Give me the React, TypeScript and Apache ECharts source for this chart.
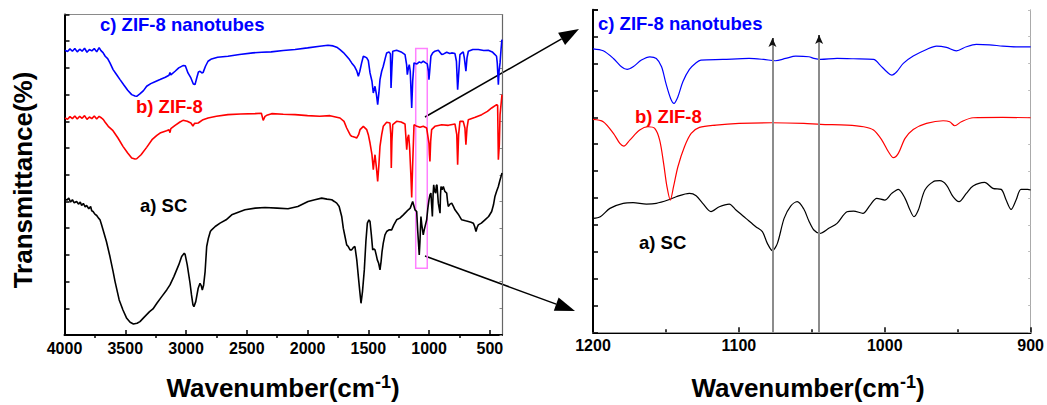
import React, { useEffect, useRef } from "react";
import * as echarts from "echarts";

type P = [number, number];

// ---------- left panel (full spectrum), x = wavenumber, y = relative transmittance (offset traces)
const leftBlackSC: P[] = [
  [3996, 408], [3980, 404], [3965, 410], [3950, 398], [3935, 405], [3920, 396], [3900, 400], [3885, 392],
  [3870, 398], [3859, 388], [3845, 394], [3830, 384], [3818, 388], [3800, 378], [3785, 385], [3776, 372],
  [3765, 370], [3750, 362], [3735, 358], [3720, 350], [3708, 345], [3695, 330], [3683, 315], [3655, 280],
  [3626, 235], [3600, 190], [3584, 160], [3550, 105], [3519, 75], [3488, 50], [3460, 38], [3433, 33],
  [3403, 35], [3379, 40], [3340, 55], [3300, 70], [3272, 78], [3240, 95], [3200, 115], [3159, 135],
  [3132, 150], [3100, 175], [3060, 210], [3036, 235], [3015, 245], [3008, 242], [2990, 210], [2967, 155],
  [2955, 120], [2943, 90], [2935, 85], [2920, 100], [2900, 140], [2885, 155], [2875, 148], [2866, 135],
  [2855, 150], [2843, 190], [2830, 265], [2816, 290], [2800, 310], [2789, 315], [2760, 325], [2720, 335],
  [2670, 345], [2624, 360], [2570, 368], [2515, 375], [2430, 380], [2350, 382], [2250, 380], [2161, 378],
  [2080, 385], [1996, 400], [1940, 405], [1884, 410], [1840, 407], [1801, 405], [1780, 400], [1760, 395],
  [1740, 385], [1719, 355], [1706, 320], [1692, 295], [1678, 270], [1665, 265], [1650, 255], [1637, 255],
  [1623, 262], [1610, 265], [1595, 225], [1582, 175], [1570, 130], [1560, 95], [1548, 130], [1533, 195],
  [1520, 280], [1508, 335], [1495, 345], [1486, 340], [1475, 300], [1464, 255], [1455, 258], [1445, 255],
  [1435, 240], [1426, 225], [1415, 215], [1404, 195], [1395, 220], [1387, 250], [1377, 275], [1363, 300],
  [1349, 310], [1330, 315], [1308, 315], [1290, 330], [1267, 345], [1240, 350], [1212, 360], [1190, 368],
  [1171, 375], [1155, 380], [1135, 400], [1116, 375], [1102, 370], [1094, 315], [1081, 240], [1075, 280],
  [1067, 355], [1060, 330], [1048, 300], [1040, 315], [1030, 330], [1020, 345], [1010, 380], [1001, 405],
  [993, 420], [985, 425], [979, 390], [973, 355], [967, 420], [962, 450], [954, 430], [946, 425],
  [940, 448], [935, 450], [929, 420], [924, 395], [917, 380], [910, 365], [906, 420], [902, 445],
  [893, 435], [883, 445], [870, 430], [855, 425], [848, 400], [842, 385], [828, 392], [814, 395],
  [800, 385], [787, 375], [760, 362], [732, 345], [700, 342], [677, 340], [655, 338], [636, 335],
  [625, 325], [614, 310], [605, 322], [595, 330], [570, 335], [540, 345], [510, 355], [485, 370],
  [470, 390], [458, 415], [445, 430], [430, 445], [418, 462], [408, 475], [400, 485],
];

const leftRedZIF8: P[] = [
  [3996, 650], [3975, 646], [3955, 654], [3935, 648], [3915, 656], [3895, 647], [3875, 655], [3855, 649],
  [3835, 657], [3815, 646], [3795, 653], [3775, 648], [3755, 656], [3735, 647], [3715, 655], [3695, 650],
  [3680, 645], [3667, 638], [3640, 625], [3601, 612], [3560, 590], [3519, 565], [3480, 545], [3447, 530],
  [3420, 527], [3406, 528], [3370, 540], [3324, 562], [3280, 585], [3240, 598], [3214, 605], [3160, 612],
  [3140, 615], [3132, 606], [3125, 618], [3090, 628], [3050, 638], [3025, 643], [2990, 640], [2960, 635],
  [2943, 626], [2930, 634], [2900, 635], [2860, 645], [2819, 650], [2750, 655], [2655, 660], [2550, 662],
  [2432, 663], [2380, 664], [2365, 643], [2350, 655], [2336, 658], [2295, 663], [2200, 661], [2103, 660],
  [2000, 657], [1900, 655], [1815, 657], [1733, 650], [1700, 640], [1678, 620], [1650, 600], [1637, 595],
  [1610, 592], [1596, 590], [1580, 600], [1568, 615], [1541, 625], [1513, 615], [1500, 600], [1486, 575],
  [1470, 540], [1459, 495], [1452, 520], [1445, 540], [1433, 500], [1423, 460], [1413, 510], [1404, 565],
  [1390, 600], [1377, 625], [1349, 637], [1322, 635], [1315, 600], [1311, 500], [1306, 580], [1299, 630],
  [1267, 640], [1230, 638], [1198, 632], [1184, 555], [1176, 590], [1168, 600], [1160, 560], [1150, 480],
  [1143, 412], [1136, 500], [1124, 630], [1100, 625], [1075, 622], [1048, 625], [1020, 620], [1001, 575],
  [997, 540], [993, 520], [987, 580], [979, 615], [952, 625], [896, 630], [842, 628], [787, 632],
  [772, 600], [765, 510], [757, 600], [746, 640], [719, 640], [705, 620], [697, 570], [688, 620],
  [677, 645], [620, 652], [567, 660], [520, 670], [485, 680], [444, 690], [436, 688], [430, 525],
  [422, 570], [416, 660], [408, 690], [400, 720],
];

const leftBlueNanotubes: P[] = [
  [3996, 853], [3975, 849], [3955, 857], [3935, 850], [3915, 858], [3895, 848], [3875, 856], [3855, 850],
  [3835, 859], [3815, 847], [3795, 855], [3775, 851], [3755, 858], [3735, 848], [3715, 861], [3700, 852],
  [3683, 846], [3665, 835], [3645, 828], [3626, 815], [3600, 795], [3575, 782], [3543, 765], [3510, 748],
  [3480, 733], [3447, 720], [3420, 716], [3406, 715], [3380, 722], [3350, 732], [3324, 745], [3290, 753],
  [3260, 758], [3214, 765], [3170, 772], [3140, 778], [3132, 786], [3125, 779], [3090, 790], [3060, 800],
  [3025, 807], [3005, 806], [2984, 785], [2960, 770], [2940, 752], [2926, 750], [2912, 770], [2898, 788],
  [2885, 790], [2870, 785], [2860, 786], [2840, 805], [2819, 820], [2790, 827], [2740, 832], [2655, 835],
  [2560, 840], [2450, 845], [2377, 847], [2300, 848], [2200, 852], [2103, 855], [2000, 860], [1900, 865],
  [1832, 868], [1790, 866], [1760, 862], [1733, 855], [1705, 846], [1678, 835], [1655, 825], [1637, 815],
  [1615, 805], [1596, 792], [1582, 775], [1570, 790], [1555, 815], [1541, 835], [1527, 833], [1513, 830],
  [1500, 822], [1486, 785], [1470, 760], [1459, 725], [1452, 735], [1445, 745], [1433, 720], [1423, 690],
  [1413, 725], [1404, 765], [1390, 790], [1377, 805], [1360, 830], [1349, 845], [1330, 848], [1318, 842],
  [1313, 740], [1306, 800], [1299, 850], [1267, 853], [1230, 848], [1198, 840], [1185, 810], [1179, 780],
  [1170, 800], [1163, 810], [1155, 790], [1143, 680], [1135, 760], [1124, 815], [1100, 812], [1080, 818],
  [1065, 815], [1048, 820], [1028, 815], [1015, 812], [1005, 790], [1001, 765], [995, 790], [985, 835],
  [970, 845], [952, 850], [924, 853], [896, 840], [880, 842], [855, 847], [830, 843], [814, 845],
  [787, 843], [775, 820], [765, 735], [755, 790], [746, 840], [730, 845], [719, 848], [710, 830],
  [697, 790], [688, 830], [677, 850], [640, 855], [595, 855], [550, 852], [513, 853], [480, 848],
  [458, 840], [445, 835], [439, 815], [430, 750], [424, 790], [416, 815], [408, 855], [402, 880], [400, 885],
];

// ---------- right panel (1200-900 cm-1 zoom)
const rightBlackSC: P[] = [
  [1200, 342], [1195, 347], [1188.4, 372], [1179.3, 387], [1172.5, 389], [1163.4, 385], [1156.6, 387],
  [1148.6, 397], [1143, 407], [1133.9, 417], [1129.3, 410], [1124.8, 387], [1119.1, 362], [1113.4, 377],
  [1106.6, 385], [1102, 367], [1095.2, 342], [1088.4, 317], [1083.9, 302], [1080.5, 267], [1077, 245],
  [1073.6, 267], [1069, 342], [1064.5, 379], [1060, 392], [1055.5, 370], [1052, 334], [1048.6, 307],
  [1044.5, 297], [1038.4, 312], [1032.7, 327], [1025.9, 362], [1021.4, 364], [1015, 357], [1010, 382],
  [1005.5, 402], [1000, 397], [995.2, 417], [990.7, 429], [986.1, 402], [982.7, 367], [980, 347],
  [977, 367], [972.5, 427], [966.8, 452], [962.3, 455], [957.7, 442], [953.2, 407], [949.1, 392],
  [944.1, 417], [939.5, 439], [931.6, 450], [925.9, 432], [920.2, 429], [916.8, 397], [913.4, 369],
  [910, 397], [906.6, 429], [902, 429], [900, 427],
];

const rightRedZIF8: P[] = [
  [1200, 639], [1193, 632], [1186, 597], [1181.6, 567], [1178.9, 559], [1174.8, 577], [1168, 607],
  [1162.3, 617], [1157.7, 612], [1154.3, 577], [1151.6, 507], [1149.3, 437], [1147, 397], [1144.8, 437],
  [1141.8, 497], [1137.3, 557], [1132.7, 597], [1127, 615], [1115.7, 622], [1099.8, 627], [1077.5, 629],
  [1055.5, 627], [1044, 624], [1025.9, 622], [1014.5, 617], [1007.7, 607], [1002, 577], [997.5, 542],
  [994.1, 524], [990.7, 537], [986.1, 582], [980.5, 609], [971.4, 627], [960, 635], [955.5, 632],
  [952, 620], [947.5, 632], [939.5, 644], [919.1, 645], [900, 644],
];

const rightBlueNanotubes: P[] = [
  [1200, 851], [1193, 845], [1186, 822], [1180.5, 797], [1176.6, 789], [1172.5, 797], [1166.8, 817],
  [1161, 827], [1156.6, 822], [1153, 797], [1150, 747], [1146.8, 702], [1144.5, 687], [1141.8, 707],
  [1138.4, 752], [1133.9, 789], [1129.3, 809], [1126, 817], [1111, 819], [1093, 822], [1083, 819],
  [1075, 815], [1068, 822], [1061, 829], [1052, 827], [1048.6, 822], [1044, 819], [1032.7, 822],
  [1021.4, 821], [1007.7, 819], [1003.2, 802], [998.6, 782], [995.2, 772], [991.8, 782], [987.3, 807],
  [980.5, 829], [971.4, 849], [964.5, 859], [957.7, 855], [950.9, 845], [944.1, 857], [937.3, 864],
  [928.2, 863], [919.1, 859], [910, 857], [900, 857],
];

const leftXTicks = [4000, 3500, 3000, 2500, 2000, 1500, 1000, 500];
const leftXMinorTicks = [3750, 3250, 2750, 2250, 1750, 1250, 750];
const zoomBox = { from: 1110, to: 1015, top: 858, bottom: 200 };
const markerPeaks = [
  { wn: 1077, top: 883 },
  { wn: 1045, top: 892 },
];
const labelTexts = { c: "c) ZIF-8 nanotubes", b: "b) ZIF-8", a: "a) SC" };

const FONT = "'Liberation Sans', Arial, Helvetica, sans-serif";

export default function App() {
  const ref = useRef<HTMLDivElement>(null);
  useEffect(() => {
    const chart = echarts.init(ref.current!, undefined, { renderer: "svg" });
    const tickLabel = {
      fontSize: 16, fontWeight: "bold", color: "#000", fontFamily: FONT,
      formatter: (v: number) => String(v),
    };
    const lineS = (color: string, w: number) => ({ color, width: w });
    const text = (t: string, x: number, y: number, fill: string, size = 18.5) => ({
      type: "text",
      x,
      y,
      style: { text: t, fill, fontSize: size, fontWeight: "bold", fontFamily: FONT, align: "left", verticalAlign: "middle" },
    });
    const xTitle = (cx: number) => ({
      type: "text",
      x: cx,
      y: 388,
      style: {
        text: "{a|Wavenumber(cm}{b|-1}{a|)}",
        align: "center",
        verticalAlign: "middle",
        fill: "#000",
        rich: {
          a: { fontSize: 26, fontWeight: "bold", fontFamily: FONT, lineHeight: 30, fill: "#000" },
          b: { fontSize: 18, fontWeight: "bold", fontFamily: FONT, lineHeight: 16, verticalAlign: "top", fill: "#000" },
        },
      },
    });

    const option: any = {
      animation: false,
      backgroundColor: "#fff",
      grid: [
        { left: 64.5, top: 14.5, width: 437.5, height: 320.5 },
        { left: 593, top: 9.8, width: 439, height: 322.5 },
      ],
      xAxis: [
        {
          gridIndex: 0, type: "value", min: 400, max: 4000, inverse: true,
          axisLine: { lineStyle: { color: "#000", width: 2 } },
          axisTick: { inside: true, length: 5, customValues: leftXTicks, lineStyle: { color: "#000", width: 1.5 } },
          axisLabel: { ...tickLabel, margin: 5, customValues: leftXTicks },
          splitLine: { show: false },
        },
        {
          gridIndex: 0, type: "value", min: 400, max: 4000, inverse: true,
          axisLine: { show: false },
          axisTick: { inside: true, length: 3, customValues: leftXMinorTicks, lineStyle: { color: "#000", width: 1.5 } },
          axisLabel: { show: false },
          splitLine: { show: false },
        },
        {
          gridIndex: 0, type: "value", min: 400, max: 4000, inverse: true, position: "top",
          axisLine: { lineStyle: { color: "#8a8a8a", width: 1 } },
          axisTick: { show: false }, axisLabel: { show: false }, splitLine: { show: false },
        },
        {
          gridIndex: 1, type: "value", min: 900, max: 1200, interval: 100, inverse: true,
          axisLine: { lineStyle: { color: "#000", width: 2 } },
          axisTick: { inside: true, length: 5, lineStyle: { color: "#000", width: 1.5 } },
          minorTick: { show: true, splitNumber: 2, length: 3, lineStyle: { color: "#000", width: 1.5 } },
          axisLabel: { ...tickLabel, margin: 5 },
          splitLine: { show: false },
        },
        {
          gridIndex: 1, type: "value", min: 900, max: 1200, inverse: true, position: "top",
          axisLine: { lineStyle: { color: "#999", width: 1 } },
          axisTick: { show: false }, axisLabel: { show: false }, splitLine: { show: false },
        },
      ],
      yAxis: [
        {
          gridIndex: 0, type: "value", min: 0, max: 960, interval: 80,
          axisLine: { show: true, lineStyle: { color: "#000", width: 2 } },
          axisTick: { show: true, inside: true, length: 5, lineStyle: { color: "#000", width: 1.5 } },
          axisLabel: { show: false }, splitLine: { show: false },
        },
        {
          gridIndex: 0, type: "value", min: 0, max: 960, interval: 80, position: "right",
          axisLine: { show: true, lineStyle: { color: "#666", width: 1.2 } },
          axisTick: { show: true, inside: true, length: 2.5, lineStyle: { color: "#888", width: 1 } },
          axisLabel: { show: false }, splitLine: { show: false },
        },
        {
          gridIndex: 1, type: "value", min: 0, max: 968, interval: 968 / 12,
          axisLine: { show: true, lineStyle: { color: "#000", width: 2 } },
          axisTick: { show: true, inside: true, length: 5, lineStyle: { color: "#000", width: 1.5 } },
          axisLabel: { show: false }, splitLine: { show: false },
        },
        {
          gridIndex: 1, type: "value", min: 0, max: 968, interval: 968 / 12, position: "right",
          axisLine: { show: true, lineStyle: { color: "#aaa", width: 1 } },
          axisTick: { show: true, inside: true, length: 2.5, lineStyle: { color: "#bbb", width: 1 } },
          axisLabel: { show: false }, splitLine: { show: false },
        },
      ],
      series: [
        {
          type: "line", xAxisIndex: 0, yAxisIndex: 0, data: leftBlackSC, showSymbol: false,
          lineStyle: lineS("#000", 1.6), itemStyle: { color: "#000" }, silent: true,
        },
        {
          type: "line", xAxisIndex: 0, yAxisIndex: 0, data: leftRedZIF8, showSymbol: false,
          lineStyle: lineS("#ff0000", 1.6), itemStyle: { color: "#ff0000" }, silent: true,
        },
        {
          type: "line", xAxisIndex: 0, yAxisIndex: 0, data: leftBlueNanotubes, showSymbol: false,
          lineStyle: lineS("#0000ff", 1.6), itemStyle: { color: "#0000ff" }, silent: true,
          markArea: {
            silent: true,
            itemStyle: { color: "rgba(0,0,0,0)", borderColor: "#ff80ff", borderWidth: 1.5 },
            data: [[{ xAxis: zoomBox.from, yAxis: zoomBox.top }, { xAxis: zoomBox.to, yAxis: zoomBox.bottom }]],
          },
        },
        {
          type: "line", xAxisIndex: 3, yAxisIndex: 2, data: rightBlackSC, showSymbol: false, smooth: 0.3,
          lineStyle: lineS("#000", 1.2), itemStyle: { color: "#000" }, silent: true,
        },
        {
          type: "line", xAxisIndex: 3, yAxisIndex: 2, data: rightRedZIF8, showSymbol: false, smooth: 0.3,
          lineStyle: lineS("#ff0000", 1.2), itemStyle: { color: "#ff0000" }, silent: true,
          markLine: {
            silent: true, symbol: ["none", "none"], label: { show: false },
            lineStyle: { color: "#8c8c8c", width: 2, type: "solid" },
            data: markerPeaks.map((m) => [{ coord: [m.wn, 0] }, { coord: [m.wn, m.top - 8] }]),
          },
        },
        {
          type: "line", xAxisIndex: 3, yAxisIndex: 2, data: rightBlueNanotubes, showSymbol: false, smooth: 0.3,
          lineStyle: lineS("#0000ff", 1.2), itemStyle: { color: "#0000ff" }, silent: true,
          markLine: {
            silent: true, symbol: ["none", "arrow"], symbolSize: [6, 9], label: { show: false },
            lineStyle: { color: "#111", width: 1.5, type: "solid" },
            data: markerPeaks.map((m) => [{ coord: [m.wn, m.top - 20] }, { coord: [m.wn, m.top] }]),
          },
        },
      ],
      graphic: [
        text(labelTexts.c, 100, 24, "#0000ff"),
        text(labelTexts.b, 136, 106, "#ff0000"),
        text(labelTexts.a, 140, 205, "#000"),
        text(labelTexts.c, 598, 23, "#0000ff"),
        text(labelTexts.b, 635, 116, "#ff0000"),
        text(labelTexts.a, 639, 242, "#000"),
        {
          type: "text", x: 23, y: 180, rotation: Math.PI / 2,
          style: {
            text: "Transmittance(%)", fill: "#000", fontSize: 26, fontWeight: "bold", fontFamily: FONT,
            align: "center", verticalAlign: "middle",
          },
        },
        xTitle(283),
        xTitle(808),
        { type: "line", shape: { x1: 425, y1: 117, x2: 561.6, y2: 38.9 }, style: { stroke: "#000", lineWidth: 1.5 } },
        { type: "polygon", shape: { points: [[579, 29], [565.1, 45.0], [558.1, 32.8]] }, style: { fill: "#000" } },
        { type: "line", shape: { x1: 425, y1: 256, x2: 556.2, y2: 304.1 }, style: { stroke: "#000", lineWidth: 1.5 } },
        { type: "polygon", shape: { points: [[575, 311], [553.8, 310.7], [558.6, 297.5]] }, style: { fill: "#000" } },
      ],
    };
    chart.setOption(option);
    return () => chart.dispose();
  }, []);
  return (
    <div
      ref={ref}
      style={{ position: "fixed", left: 0, top: 0, width: 1047, height: 405, background: "#fff" }}
    />
  );
}
